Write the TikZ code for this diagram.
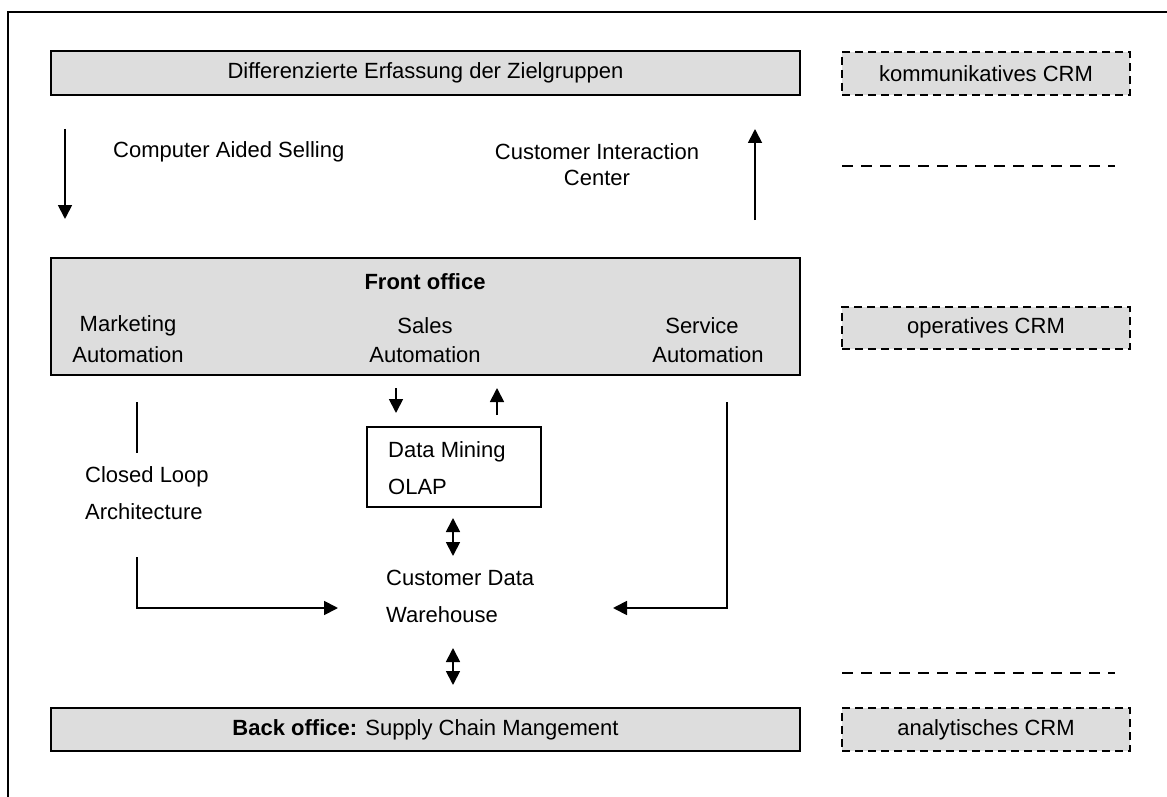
\documentclass[tikz,border=0pt]{standalone}
\usepackage{fontspec}
\setmainfont{Liberation Sans}
\usetikzlibrary{arrows.meta}
\definecolor{boxgray}{HTML}{DDDDDD}
\begin{document}
\begin{tikzpicture}[x=1pt,y=-1pt,
  every node/.style={font=\fontsize{22}{26}\selectfont, inner sep=0pt},
  panel/.style={draw, fill=boxgray, line width=1.8pt, minimum width=749pt},
  crmbox/.style={draw, fill=boxgray, line width=1.8pt, dash pattern=on 8pt off 5pt,
                 minimum width=288pt, minimum height=43pt},
  sepline/.style={line width=1.8pt, dash pattern=on 11pt off 8pt},
  wire/.style={line width=1.8pt},
  link/.style={wire, -{Triangle[length=14pt,width=14pt]}},
  twoway/.style={wire, {Triangle[length=14pt,width=14pt]}-{Triangle[length=14pt,width=14pt]}},
  twoline/.style={align=left, font=\fontsize{22}{37}\selectfont},
  centerlines/.style={align=center, font=\fontsize{22}{26}\selectfont}
]
\useasboundingbox (0,0) rectangle (1167,797);
\fill[white] (0,0) rectangle (1167,797);

% outer frame (top and left edges)
\draw[wire] (8,797) -- (8,12) -- (1167,12);

% main layers
\node[panel, minimum height=44pt] (target) at (425.5,73) {Differenzierte Erfassung der Zielgruppen};
\node[panel, minimum height=117pt] (front) at (425.5,316.5) {};
\node[panel, minimum height=43pt] (back) at (425.5,729.5) {\textbf{Back office:} Supply Chain Mangement};

% CRM categories
\node[crmbox] (kom) at (986,73.5) {kommunikatives CRM};
\node[crmbox, minimum height=42pt] (oper) at (986,328) {operatives CRM};
\node[crmbox] (anal) at (986,729.5) {analytisches CRM};
\coordinate (sepA1) at (842,166); \coordinate (sepA2) at (1115,166);
\coordinate (sepB1) at (842,673); \coordinate (sepB2) at (1115,673);
\draw[sepline] (sepA1) -- (sepA2);
\draw[sepline] (sepB1) -- (sepB2);

% front office contents
\node[font=\fontsize{22}{26}\selectfont\bfseries] (fotitle) at (425,282) {Front office};
\node (mkt1) at (128,326) {Marketing};
\node (mkt2) at (128,355) {Automation};
\node (sal1) at (425,326) {Sales};
\node (sal2) at (425,355) {Automation};
\node (srv1) at (702,326) {Service};
\node (srv2) at (708,355) {Automation};

% channels between target groups and front office
\node[anchor=west] (cas) at (113,152) {Computer Aided Selling};
\node[centerlines] (cic) at (597,165) {Customer Interaction\\Center};
\coordinate (casA) at (65,129); \coordinate (casB) at (65,219);
\coordinate (cicA) at (755,220); \coordinate (cicB) at (755,129);
\draw[link] (casA) -- (casB);
\draw[link] (cicA) -- (cicB);

% analysis block
\node[draw, line width=1.8pt, minimum width=174pt, minimum height=80pt] (dm) at (454,467) {};
\node[twoline, anchor=west] (dmtext) at (388,468.5) {Data Mining\\OLAP};
\node[twoline, anchor=west] (cdw) at (386,596.5) {Customer Data\\Warehouse};

\coordinate (sdA) at (396,388); \coordinate (sdB) at (396,413);
\coordinate (suA) at (497,415); \coordinate (suB) at (497,388);
\draw[link] (sdA) -- (sdB);
\draw[link] (suA) -- (suB);

\coordinate (dwA) at (453,518); \coordinate (dwB) at (453,556);
\draw[twoway] (dwA) -- (dwB);
\coordinate (wbA) at (453,648); \coordinate (wbB) at (453,685);
\draw[twoway] (wbA) -- (wbB);

% closed loop
\node[twoline, anchor=west] (loop) at (85,493.5) {Closed Loop\\Architecture};
\coordinate (lA) at (137,402); \coordinate (lB) at (137,453);
\coordinate (lC) at (137,557); \coordinate (lD) at (137,608); \coordinate (lE) at (338,608);
\draw[wire] (lA) -- (lB);
\draw[link] (lC) -- (lD) -- (lE);
\coordinate (rA) at (727,402); \coordinate (rB) at (727,608); \coordinate (rC) at (613,608);
\draw[link] (rA) -- (rB) -- (rC);
\end{tikzpicture}
\end{document}
